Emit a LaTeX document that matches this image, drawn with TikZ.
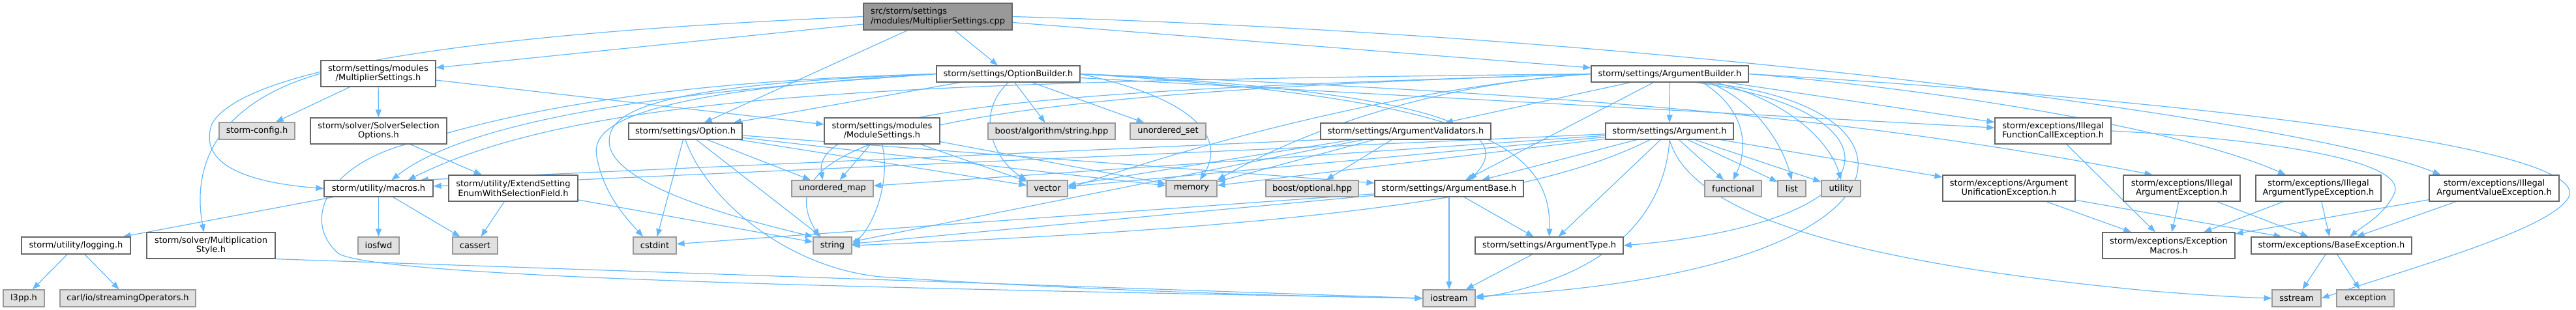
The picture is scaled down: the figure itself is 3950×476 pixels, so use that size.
\documentclass[tikz,border=0pt]{standalone}
\usepackage{fontspec}
\setmainfont{DejaVu Sans}
\usetikzlibrary{arrows.meta,calc}
\definecolor{edgec}{HTML}{63B8FF}
\definecolor{bord}{HTML}{666666}
\definecolor{gbord}{HTML}{999999}
\definecolor{gfill}{HTML}{E0E0E0}
\definecolor{topfill}{HTML}{999999}
\pgfdeclarelayer{bg}
\pgfsetlayers{bg,main}
\newcommand\mkw[6]{\node[wbox,minimum width=#4bp,minimum height=#5bp] (#1) at (#2,#3) {#6};}
\newcommand\mkg[6]{\node[gbox,minimum width=#4bp,minimum height=#5bp] (#1) at (#2,#3) {#6};}
\begin{document}
\begin{tikzpicture}[x=1bp,y=-1bp,
  nbox/.style={rectangle, inner sep=0pt, font=\fontsize{13bp}{14.7bp}\selectfont, align=center, line width=1.2bp},
  wbox/.style={nbox, draw=bord, fill=white},
  gbox/.style={nbox, draw=gbord, fill=gfill},
  tbox/.style={nbox, draw=bord, fill=topfill, align=left},
  dep/.style={draw=edgec, line width=1.2bp, -{Triangle[length=12bp,width=9bp]}}]
\useasboundingbox (0,0) rectangle (3950,476);
% nodes
\node[tbox,minimum width=228bp,minimum height=41bp] (top) at (1438,25.5) {src/storm/settings\\/modules/MultiplierSettings.cpp};
\mkw{msh}{580}{113}{176}{40}{storm/settings/modules\\/MultiplierSettings.h}
\mkg{cfg}{394}{201}{116}{26}{storm-config.h}
\mkw{sso}{580.5}{201}{209}{40}{storm/solver/SolverSelection\\Options.h}
\mkw{macros}{580.5}{289.5}{167}{25}{storm/utility/macros.h}
\mkw{logging}{116.5}{377}{167}{26}{storm/utility/logging.h}
\mkw{mstyle}{323.5}{377}{197}{40}{storm/solver/Multiplication\\Style.h}
\mkg{iosfwd}{580.5}{377}{63}{26}{iosfwd}
\mkg{cassert}{728.5}{377}{69}{26}{cassert}
\mkg{l3pp}{36.5}{458}{63}{26}{l3pp.h}
\mkg{carl}{196}{458}{208}{26}{carl/io/streamingOperators.h}
\mkw{ext}{787}{289}{198}{40}{storm/utility/ExtendSetting\\EnumWithSelectionField.h}
\mkw{opt}{1051}{201.5}{174}{25}{storm/settings/Option.h}
\mkw{mods}{1352.5}{201}{177}{40}{storm/settings/modules\\/ModuleSettings.h}
\mkg{umap}{1276.5}{289.5}{125}{25}{unordered\_map}
\mkg{cstdint}{1004}{377}{66}{26}{cstdint}
\mkg{string}{1276.5}{377}{59}{26}{string}
\mkw{optb}{1546}{113.5}{220}{25}{storm/settings/OptionBuilder.h}
\mkg{balg}{1612.5}{201.5}{195}{25}{boost/algorithm/string.hpp}
\mkg{uset}{1791}{201.5}{116}{25}{unordered\_set}
\mkg{vector}{1606}{289.5}{62}{25}{vector}
\mkg{memory}{1827}{289.5}{78}{25}{memory}
\mkg{bopt}{2012}{289.5}{142}{25}{boost/optional.hpp}
\mkw{argb}{2560.5}{113.5}{241}{25}{storm/settings/ArgumentBuilder.h}
\mkw{argv}{2155.5}{201.5}{261}{25}{storm/settings/ArgumentValidators.h}
\mkw{arg}{2560}{201.5}{196}{25}{storm/settings/Argument.h}
\mkw{argbase}{2222}{289.5}{228}{25}{storm/settings/ArgumentBase.h}
\mkw{argtype}{2375.5}{377}{227}{26}{storm/settings/ArgumentType.h}
\mkg{iostream}{2222}{458}{80}{26}{iostream}
\mkg{functional}{2657.5}{289.5}{87}{25}{functional}
\mkg{list}{2747.5}{289.5}{43}{25}{list}
\mkg{utility}{2823}{289.5}{60}{25}{utility}
\mkw{ifc}{3148}{201}{178}{40}{storm/exceptions/Illegal\\FunctionCallException.h}
\mkw{unif}{3080.5}{289}{203}{40}{storm/exceptions/Argument\\UnificationException.h}
\mkw{emac}{3325.5}{377}{203}{40}{storm/exceptions/Exception\\Macros.h}
\mkw{iae}{3345.5}{289}{179}{40}{storm/exceptions/Illegal\\ArgumentException.h}
\mkw{iate}{3555}{289}{192}{40}{storm/exceptions/Illegal\\ArgumentTypeException.h}
\mkw{iave}{3824.5}{289}{199}{40}{storm/exceptions/Illegal\\ArgumentValueException.h}
\mkw{base}{3575}{377}{246}{26}{storm/exceptions/BaseException.h}
\mkg{sstream}{3521.5}{458}{75}{26}{sstream}
\mkg{exception}{3627}{458}{88}{26}{exception}
% edges
\begin{pgfonlayer}{bg}
% top
\draw[dep] (top) -- (msh);
\draw[dep] (top.west) .. controls (800,48) and (380,95) .. (325,190) .. controls (300,260) and (400,282) .. (macros.west);
\draw[dep] (top) -- (optb);
\draw[dep] (top) -- (opt);
\draw[dep] (top) -- (argb);
\draw[dep] (top.east) .. controls (2600,55) and (3550,190) .. ($(iave.north)+(-82,0)$);
% MultiplierSettings.h
\draw[dep] (msh) -- (cfg);
\draw[dep] (msh) -- (sso);
\draw[dep] (msh.west) .. controls (360,150) and (290,230) .. ($(mstyle.north)+(-11,0)$);
\draw[dep] (msh) -- (mods);
\draw[dep] (sso) -- (ext);
\draw[dep] (ext) -- (cassert);
\draw[dep] (ext) -- (string);
\draw[dep] (mstyle.south east) -- (iostream.west);
\draw[dep] (macros) -- (logging);
\draw[dep] (macros) -- (iosfwd);
\draw[dep] (macros) -- (cassert);
\draw[dep] (logging) -- (l3pp);
\draw[dep] (logging) -- (carl);
% ModuleSettings.h
\draw[dep] (mods) -- (umap);
\draw[dep] (mods) -- (vector);
\draw[dep] (mods) -- (memory);
\draw[dep] (mods.south) .. controls (1365,270) and (1345,340) .. (string.east);
% Option.h
\draw[dep] (opt) -- (cstdint);
\draw[dep] (opt.south) .. controls (1080,300) and (1200,410) .. (1350,425) .. controls (1700,448) and (2000,455) .. (iostream.west);
\draw[dep] (opt) -- (string);
\draw[dep] (opt) -- (umap);
\draw[dep] (opt) -- (vector);
\draw[dep] (opt) -- (memory);
\draw[dep] (opt) -- (argbase);
% OptionBuilder.h
\draw[dep] (optb) -- (opt);
\draw[dep] (optb) -- (balg);
\draw[dep] (optb) -- (uset);
\draw[dep] (optb.south) .. controls (1490,180) and (1530,250) .. (vector.north west);
\draw[dep] (optb.east) .. controls (1870,160) and (1870,230) .. ($(memory.north)+(13,0)$);
\draw[dep] (optb.west) .. controls (1000,125) and (780,175) .. (650,215) .. controls (500,245) and (460,340) .. (520,390) .. controls (600,430) and (1500,445) .. (iostream.west);
\draw[dep] (optb.west) .. controls (1000,130) and (925,170) .. (935,225) .. controls (950,290) and (1150,340) .. (string.north west);
\draw[dep] (optb.west) .. controls (980,140) and (905,190) .. (915,240) .. controls (925,300) and (965,340) .. ($(cstdint.north)+(-18,0)$);
\draw[dep] (optb.east) .. controls (2200,140) and (2330,200) .. ($(argbase.north)+(31,0)$);
\draw[dep] (optb.east) .. controls (2250,150) and (2380,220) .. (argtype.north);
\draw[dep] (optb) -- (ifc);
\draw[dep] (optb.east) .. controls (2300,140) and (2800,170) .. ($(iae.north)+(-45,0)$);
\draw[dep] (optb.west) .. controls (1300,125) and (760,150) .. ($(macros.north)+(20,0)$);
% ArgumentBuilder.h
\draw[dep] (argb) -- (argv);
\draw[dep] (argb) -- (argbase);
\draw[dep] (argb) -- (arg);
\draw[dep] ($(argb.south)+(50,0)$) .. controls (2680,170) and (2680,230) .. (functional.north);
\draw[dep] ($(argb.south)+(60,0)$) .. controls (2700,160) and (2735,230) .. (list.north);
\draw[dep] ($(argb.south)+(70,0)$) .. controls (2760,160) and (2810,230) .. (utility.north);
\draw[dep] ($(argb.south)+(40,0)$) .. controls (2920,170) and (2920,340) .. (argtype.east);
\draw[dep] ($(argb.south)+(48,0)$) .. controls (2980,160) and (2960,420) .. ($(iostream.east)+(0,-3)$);
\draw[dep] (argb) -- (ifc);
\draw[dep] (argb.east) .. controls (3000,140) and (3350,200) .. ($(iate.north)+(-50,0)$);
\draw[dep] (argb.east) .. controls (3300,150) and (3960,220) .. (3940,300) .. controls (3920,350) and (3700,410) .. (sstream.east);
\draw[dep] (argb.west) .. controls (1400,125) and (900,140) .. ($(macros.north)+(45,0)$);
\draw[dep] (argb.west) .. controls (2200,130) and (1900,200) .. (vector.east);
\draw[dep] (argb.west) .. controls (2200,128) and (2000,200) .. (memory.north east);
\draw[dep] (argb.west) .. controls (1800,135) and (1240,150) .. ($(umap.north)+(-15,0)$);
\draw[dep] (argb.west) .. controls (1600,140) and (1150,190) .. ($(string.north)+(-20,0)$);
% ArgumentValidators.h
\draw[dep] (argv) -- (memory);
\draw[dep] (argv) -- (vector);
\draw[dep] (argv) -- (string);
\draw[dep] (argv.south west) -- ($(macros.north east)+(-20,0)$);
\draw[dep] (argv) -- (bopt);
% Argument.h
\draw[dep] (arg) -- (argbase);
\draw[dep] (arg) -- (argtype);
\draw[dep] (arg.south) .. controls (2555,300) and (2500,420) .. (iostream.east);
\draw[dep] (arg) -- (functional);
\draw[dep] (arg) -- (list);
\draw[dep] (arg) -- (utility);
\draw[dep] (arg) -- (unif);
\draw[dep] (arg.south) .. controls (2590,320) and (2800,400) .. (3300,447) .. controls (3400,455) and (3450,457) .. (sstream.west);
\draw[dep] ($(arg.south)+(-30,0)$) .. controls (2380,290) and (2100,345) .. (string.east);
\draw[dep] (arg) -- (memory);
\draw[dep] (arg) -- (vector);
\draw[dep] (arg) -- (umap);
\draw[dep] (arg) -- (macros);
% ArgumentBase.h
\draw[dep] (argbase) -- (iostream);
\draw[dep] (argbase) -- (argtype);
\draw[dep] (argbase) -- (string);
\draw[dep] (argbase) -- (cstdint);
\draw[dep] (argtype) -- (iostream);
% exceptions
\draw[dep] (unif) -- (emac);
\draw[dep] (unif) -- (base);
\draw[dep] (ifc) -- (emac);
\draw[dep] (ifc.east) .. controls (3500,215) and (3700,250) .. (3670,300) .. controls (3655,330) and (3620,350) .. ($(base.north)+(28,0)$);
\draw[dep] (iae) -- (emac);
\draw[dep] (iae) -- (base);
\draw[dep] (iate) -- (emac);
\draw[dep] (iate) -- (base);
\draw[dep] (iave) -- (emac);
\draw[dep] (iave) -- (base);
\draw[dep] (base) -- (sstream);
\draw[dep] (base) -- (exception);
\end{pgfonlayer}
\end{tikzpicture}
\end{document}
